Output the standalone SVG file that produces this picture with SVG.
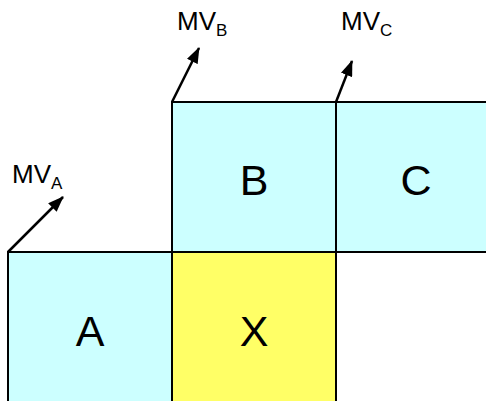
<svg xmlns="http://www.w3.org/2000/svg" width="486" height="401" viewBox="0 0 486 401">
  <defs>
    <marker id="arrow" viewBox="0 0 16 12" refX="15" refY="6" markerWidth="16" markerHeight="12" markerUnits="userSpaceOnUse" orient="auto">
      <path d="M0,0 L16,6 L0,12 z" fill="#000"/>
    </marker>
    <style>
      .cell { stroke: #000; stroke-width: 2; }
      .nb { fill: #CCFFFF; }
      .cur { fill: #FFFF66; }
      .big { font-family: "Liberation Sans", Arial, sans-serif; font-size: 43px; fill: #000; text-anchor: middle; }
      .mv { font-family: "Liberation Sans", Arial, sans-serif; font-size: 26px; fill: #000; }
      .sub { font-size: 17px; }
      .vec { stroke: #000; stroke-width: 2.5; fill: none; }
    </style>
  </defs>
  <rect width="486" height="401" fill="#fff"/>

  <g id="node-A">
    <rect class="cell nb" x="8" y="252" width="164" height="160"/>
    <text class="big" x="90" y="346">A</text>
  </g>
  <g id="node-X">
    <rect class="cell cur" x="172" y="252" width="164" height="160"/>
    <text class="big" x="254" y="346">X</text>
  </g>
  <g id="node-B">
    <rect class="cell nb" x="172" y="102" width="164" height="150"/>
    <text class="big" x="254" y="195">B</text>
  </g>
  <g id="node-C">
    <rect class="cell nb" x="336" y="102" width="164" height="150"/>
    <text class="big" x="416" y="195">C</text>
  </g>

  <g id="connectors">
    <line class="vec" x1="8" y1="252" x2="63" y2="197" marker-end="url(#arrow)"/>
    <line class="vec" x1="172" y1="102" x2="199" y2="48" marker-end="url(#arrow)"/>
    <line class="vec" x1="336" y1="102" x2="352" y2="61" marker-end="url(#arrow)"/>
  </g>

  <g id="labels">
    <text class="mv" x="12" y="183">MV<tspan class="sub" dy="6">A</tspan></text>
    <text class="mv" x="177" y="30">MV<tspan class="sub" dy="6">B</tspan></text>
    <text class="mv" x="341" y="30">MV<tspan class="sub" dy="6">C</tspan></text>
  </g>
</svg>
